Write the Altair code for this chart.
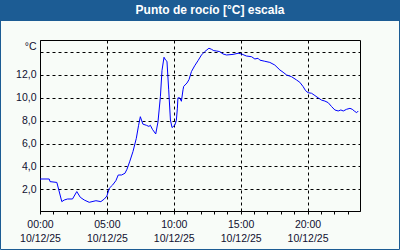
import altair as alt
import pandas as pd

# hours since 00:00 on 10/12/25
hours = [0.0, 0.69, 0.75, 1.26, 1.63, 1.81, 2.06, 2.43, 2.75, 3.01, 3.31, 3.68, 4.18, 4.55,
         4.81, 5.0, 5.18, 5.43, 5.67, 5.85, 6.1, 6.35, 6.5, 6.7, 6.95, 7.2, 7.37, 7.5, 7.69,
         7.95, 8.14, 8.25, 8.4, 8.65, 8.82, 9.0, 9.12, 9.27, 9.39, 9.49, 9.62, 9.75, 9.87,
         10.07, 10.19, 10.27, 10.31, 10.44, 10.57, 10.69, 10.74, 10.99, 11.14, 11.32, 11.56,
         11.81, 12.07, 12.31, 12.63, 12.81, 12.99, 13.19, 13.44, 13.68, 13.94, 14.43, 14.81,
         15.06, 15.43, 15.81, 16.06, 16.3, 16.43, 16.8, 17.18, 17.55, 17.93, 18.17, 18.43,
         18.8, 19.18, 19.42, 19.67, 19.85, 20.04, 20.3, 20.55, 20.79, 21.05, 21.29, 21.54,
         21.8, 22.04, 22.29, 22.49, 22.67, 22.92, 23.17, 23.34, 23.49, 23.67, 23.79]
dew = [2.9, 2.9, 2.67, 2.6, 0.92, 1.06, 1.15, 1.15, 1.8, 1.3, 1.06, 0.86, 1.0, 0.92,
       1.15, 1.41, 2.09, 2.38, 2.75, 3.25, 3.25, 3.4, 3.75, 4.4, 5.3, 6.46, 7.6, 8.35, 7.7,
       7.6, 7.5, 7.6, 7.25, 6.84, 7.9, 10.1, 12.4, 13.55, 13.3, 13.2, 10.7, 8.06, 7.4,
       7.6, 8.0, 9.1, 10.0, 10.0, 9.7, 10.7, 11.0, 11.3, 11.6, 12.3, 12.8,
       13.25, 13.75, 14.04, 14.34, 14.25, 14.13, 14.1, 14.04, 13.84, 13.75, 13.8, 13.9,
       13.84, 13.66, 13.6, 13.4, 13.46, 13.3, 13.2, 13.1, 12.87, 12.44, 12.24, 12.0,
       11.85, 11.56, 11.36, 10.98, 10.63, 10.45, 10.4, 10.2, 10.0, 9.8, 9.72, 9.58,
       9.23, 8.94, 8.85, 8.94, 8.85, 9.0, 9.08, 9.0, 8.85, 8.7, 8.85]

x_ticks = list(range(24))
y_ticks = [2, 4, 6, 8, 10, 12, 14]
date_label = "10/12/25"
title_text = "Punto de rocío [°C] escala"
unit_text = "°C"

df = pd.DataFrame({"h": hours, "v": dew})

FONT = "Liberation Sans"
TXT = "#101030"
BLUE = "#1c5c94"

line = alt.Chart(df).mark_line(color="#0000ff", strokeWidth=1, clip=True).encode(
    x=alt.X("h:Q",
            scale=alt.Scale(domain=[0, 23.92], nice=False, zero=False),
            axis=alt.Axis(
                values=x_ticks, title=None, tickSize=3, tickColor="black",
                domainColor="black", grid=True, gridColor="black", gridDash=[3, 3],
                gridOpacity={"condition": {"test": "datum.value % 5 === 0 && datum.value > 0", "value": 1}, "value": 0},
                labelExpr=("datum.value % 5 === 0 ? [(datum.value < 10 ? '0' : '') + datum.value + ':00', '"
                           + date_label + "'] : ''"),
                labelFont=FONT, labelFontSize=10.5, labelColor=TXT, labelLineHeight=14,
                labelPadding=5, labelFlush=False, labelOverlap=False)),
    y=alt.Y("v:Q",
            scale=alt.Scale(domain=[0.1, 15.06], nice=False, zero=False),
            axis=alt.Axis(
                values=y_ticks, title=unit_text, titleAngle=0, titleX=-4, titleY=6,
                titleAlign="right", titleBaseline="middle", titleFont=FONT,
                titleFontSize=10.5, titleFontWeight="normal", titleColor=TXT,
                ticks=False, domainColor="black", grid=True, gridColor="black",
                gridDash=[3, 3],
                labelExpr="datum.value >= 14 ? '' : replace(format(datum.value, '.1f'), '.', ',')",
                labelFont=FONT, labelFontSize=10.5, labelColor=TXT, labelPadding=4)),
)

one = alt.Data(values=[{"t": title_text}])

title_bar = alt.Chart(one).mark_rect(color=BLUE).encode(
    x=alt.value(-40), x2=alt.value(360), y=alt.value(-40), y2=alt.value(-19))

title = alt.Chart(one).mark_text(
    font=FONT, fontSize=12, fontWeight="bold", color="white",
    align="center", baseline="middle").encode(
    text="t:N", x=alt.value(170), y=alt.value(-30))

border = alt.Chart(one).mark_rect(fill=None, stroke=BLUE, strokeWidth=1).encode(
    x=alt.value(-39.5), x2=alt.value(359.5), y=alt.value(-40), y2=alt.value(209.5))

chart = alt.layer(line, title_bar, title, border).properties(
    width=320, height=171,
    autosize=alt.AutoSizeParams(type="none"),
    padding={"left": 40, "top": 40, "right": 40, "bottom": 39},
    background="#f8fcf8",
).configure_view(stroke="black", strokeWidth=1, fill="#f8fcf8")

chart.save("out.html", embed_options={"renderer": "svg", "actions": False})
